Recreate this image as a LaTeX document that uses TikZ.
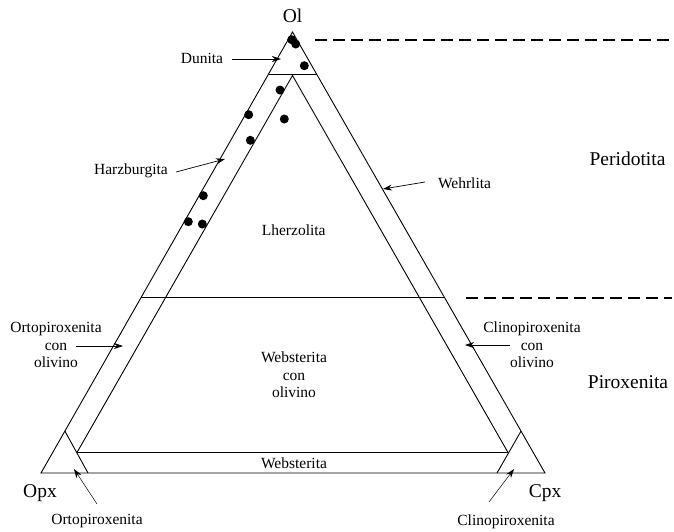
\documentclass[tikz,border=0pt]{standalone}
\usepackage{fontspec}
\setmainfont{Liberation Serif}
\usetikzlibrary{arrows.meta,calc}
\begin{document}
\begin{tikzpicture}[x=1pt,y=-1pt,
  edge/.style={line width=0.9pt, line join=miter},
  lbl/.style={font=\fontsize{15.5}{17.5}\selectfont, inner sep=0pt, align=center},
  big/.style={font=\fontsize{19.5}{22}\selectfont, inner sep=0pt},
  pointer/.style={line width=0.7pt, -{Stealth[length=9pt,width=6pt]}},
  thinpointer/.style={line width=0.5pt, -{Stealth[length=9pt,width=6pt]}},
  sep/.style={line width=1.8pt, dash pattern=on 12pt off 6pt},
  dot/.style={circle, fill=black, inner sep=0pt, minimum size=9pt}]
\useasboundingbox (0,0) rectangle (674,531);

% outer triangle
\coordinate (Ol) at (292.5,32);
\coordinate (Opx) at (41,473);
\coordinate (Cpx) at (545,473);
% inner triangle
\coordinate (iOl) at (292.5,75.5);
\coordinate (iOpx) at (77,452.5);
\coordinate (iCpx) at (508,452.5);
% dividing lines
\coordinate (dunL) at ($(Ol)!0.0952!(Opx)$);
\coordinate (dunR) at ($(Ol)!0.0952!(Cpx)$);
\coordinate (lhzL) at ($(Ol)!0.603!(Opx)$);
\coordinate (lhzR) at ($(Ol)!0.603!(Cpx)$);
\coordinate (opxA) at ($(Ol)!0.905!(Opx)$);
\coordinate (opxB) at (88,473);
\coordinate (cpxA) at ($(Ol)!0.905!(Cpx)$);
\coordinate (cpxB) at (497,473);

\draw[edge] (Ol) -- (Opx) -- (Cpx) -- cycle;
\draw[edge] (iOpx) -- (iOl) -- (iCpx);
\draw[edge] (iOpx) -- (iCpx);
\draw[edge] (dunL) -- (dunR);
\draw[edge] (lhzL) -- (lhzR);
\draw[edge] (opxA) -- (opxB);
\draw[edge] (cpxA) -- (cpxB);

% dashed separators
\coordinate (d1a) at (315,40);
\coordinate (d1b) at (672,40);
\coordinate (d2a) at (466,298);
\coordinate (d2b) at (672,298);
\draw[sep] (d1a) -- (d1b);
\draw[sep] (d2a) -- (d2b);

% data points
\foreach \i/\p in {1/{(291.7,39.7)},2/{(295.7,44)},3/{(304.3,65.7)},4/{(280,90)},
  5/{(248.7,114.7)},6/{(284.3,119)},7/{(250.3,140.3)},8/{(203.3,195.7)},
  9/{(188.3,221.7)},10/{(202.3,224)}}
  \node[dot] (pt\i) at \p {};

% vertex labels
\node[big, anchor=base] (lOl) at (292.5,22) {Ol};
\node[big, anchor=base] (lOpx) at (40,497) {Opx};
\node[big, anchor=base] (lCpx) at (545,497) {Cpx};
\node[big, anchor=base] (lPer) at (627.5,165) {Peridotita};
\node[big, anchor=base] (lPir) at (628,388) {Piroxenita};

% field labels
\node[lbl, anchor=base] (lDun) at (202,63) {Dunita};
\node[lbl, anchor=base] (lHar) at (131,174) {Harzburgita};
\node[lbl, anchor=base] (lWeh) at (464.5,188) {Wehrlita};
\node[lbl, anchor=base] (lLhz) at (293.7,235) {Lherzolita};
\node[lbl] (lOpxOl) at (56,345) {Ortopiroxenita\\con\\olivino};
\node[lbl] (lWebOl) at (294,375) {Websterita\\con\\olivino};
\node[lbl] (lCpxOl) at (532,345) {Clinopiroxenita\\con\\olivino};
\node[lbl, anchor=base] (lWeb) at (294,468) {Websterita};
\node[lbl, anchor=base] (lOrto) at (97,524) {Ortopiroxenita};
\node[lbl, anchor=base] (lClino) at (506,525) {Clinopiroxenita};

% pointers
\coordinate (aDun1) at (232,59);   \coordinate (aDun2) at (281,59);
\coordinate (aHar1) at (176,172);  \coordinate (aHar2) at (225,159);
\coordinate (aWeh1) at (425,182);  \coordinate (aWeh2) at (383,189);
\coordinate (aOO1) at (76,346);    \coordinate (aOO2) at (123,346);
\coordinate (aCO1) at (510,345);   \coordinate (aCO2) at (465,345);
\coordinate (aO1) at (97,504);     \coordinate (aO2) at (74,469);
\coordinate (aC1) at (489,502);    \coordinate (aC2) at (514,469);
\draw[pointer] (aDun1) -- (aDun2);
\draw[pointer] (aHar1) -- (aHar2);
\draw[pointer] (aWeh1) -- (aWeh2);
\draw[pointer] (aOO1) -- (aOO2);
\draw[pointer] (aCO1) -- (aCO2);
\draw[thinpointer] (aO1) -- (aO2);
\draw[thinpointer] (aC1) -- (aC2);
\end{tikzpicture}
\end{document}
